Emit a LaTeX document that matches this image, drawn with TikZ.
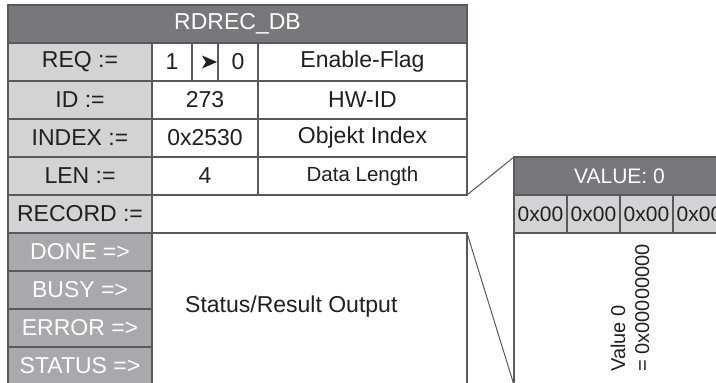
\documentclass[tikz,border=0pt]{standalone}
\usepackage{fontspec}
\setmainfont{Liberation Sans}
\usetikzlibrary{positioning}

\definecolor{hdrgray}{RGB}{119,120,123}
\definecolor{lblgray}{RGB}{209,211,212}
\definecolor{outgray}{RGB}{167,169,172}
\definecolor{edgegray}{RGB}{88,89,91}
\definecolor{inkblack}{RGB}{35,31,32}

\begin{document}
\begin{tikzpicture}[
    x=1pt,y=-1pt,
    node distance=0pt,
    cell/.style={rectangle,draw=edgegray,line width=1.3pt,outer sep=0pt,inner sep=0pt,minimum height=38pt,text=inkblack,font=\fontsize{23}{27}\selectfont},
    head/.style={cell,fill=hdrgray,text=white},
    inlabel/.style={cell,fill=lblgray,minimum width=144pt},
    outlabel/.style={cell,fill=outgray,text=white,minimum width=144pt},
    valcell/.style={cell,fill=white,minimum width=106pt},
    desccell/.style={cell,fill=white,minimum width=209pt},
    bytecell/.style={cell,fill=lblgray,minimum width=53pt,font=\fontsize{21}{25}\selectfont},
    zoomline/.style={draw=edgegray,line width=1pt}
]
    \useasboundingbox (0,0) rectangle (716,383);

    % block header
    \node[head,minimum width=459pt,anchor=north west] (title) at (8,5) {RDREC\_DB};

    % input parameters
    \node[inlabel,below right=0pt and 0pt of title.south west] (req) {REQ :=};
    \node[cell,fill=white,minimum width=40pt,right=of req] (reqone) {1};
    \node[cell,fill=white,minimum width=26pt,right=of reqone] (reqedge) {};
    \node[cell,fill=white,minimum width=40pt,right=of reqedge] (reqzero) {0};
    \node[desccell,right=of reqzero] (reqdesc) {Enable-Flag};
    \fill[inkblack,shift={(reqedge.center)}] (-3,-6.5) -- (12,0) -- (-3,6.5) -- (1,0) -- cycle;

    \node[inlabel,below=of req] (id) {ID :=};
    \node[valcell,right=of id] (idval) {273};
    \node[desccell,right=of idval] (iddesc) {HW-ID};

    \node[inlabel,below=of id] (index) {INDEX :=};
    \node[valcell,right=of index] (indexval) {0x2530};
    \node[desccell,right=of indexval] (indexdesc) {Objekt Index};

    \node[inlabel,below=of index] (len) {LEN :=};
    \node[valcell,right=of len] (lenval) {4};
    \node[desccell,right=of lenval,font=\fontsize{20.5}{24}\selectfont] (lendesc) {Data Length};

    \node[inlabel,below=of len] (record) {RECORD :=};

    % outputs
    \node[outlabel,below=of record] (done) {DONE =>};
    \node[outlabel,below=of done] (busy) {BUSY =>};
    \node[outlabel,below=of busy] (error) {ERROR =>};
    \node[outlabel,below=of error] (status) {STATUS =>};

    \node[cell,fill=white,minimum width=315pt,minimum height=152pt,below right=0pt and 0pt of record.south east] (result) {};
    \node[font=\fontsize{23}{27}\selectfont,text=inkblack,inner sep=0pt,anchor=west] (resulttext) at ([xshift=33pt,yshift=2pt]result.west) {Status/Result Output};

    % record buffer
    \node[head,minimum width=211pt,anchor=north west,font=\fontsize{21}{25}\selectfont] (valhead) at (514,157) {VALUE: 0};
    \node[bytecell,below right=0pt and 0pt of valhead.south west] (byteA) {0x00};
    \node[bytecell,right=of byteA] (byteB) {0x00};
    \node[bytecell,right=of byteB] (byteC) {0x00};
    \node[bytecell,right=of byteC] (byteD) {0x00};
    \node[cell,fill=white,minimum width=211pt,minimum height=152pt,below right=0pt and 0pt of byteA.south west] (valbody) {};
    \node[rotate=90,align=left,inner sep=0pt,text=inkblack,font=\fontsize{20}{24}\selectfont] (valtext) at (630,308) {Value 0\\= 0x00000000};

    \draw[zoomline] (lendesc.south east) -- (valhead.north west);
    \draw[zoomline] (result.north east) -- (valbody.south west);
\end{tikzpicture}
\end{document}
